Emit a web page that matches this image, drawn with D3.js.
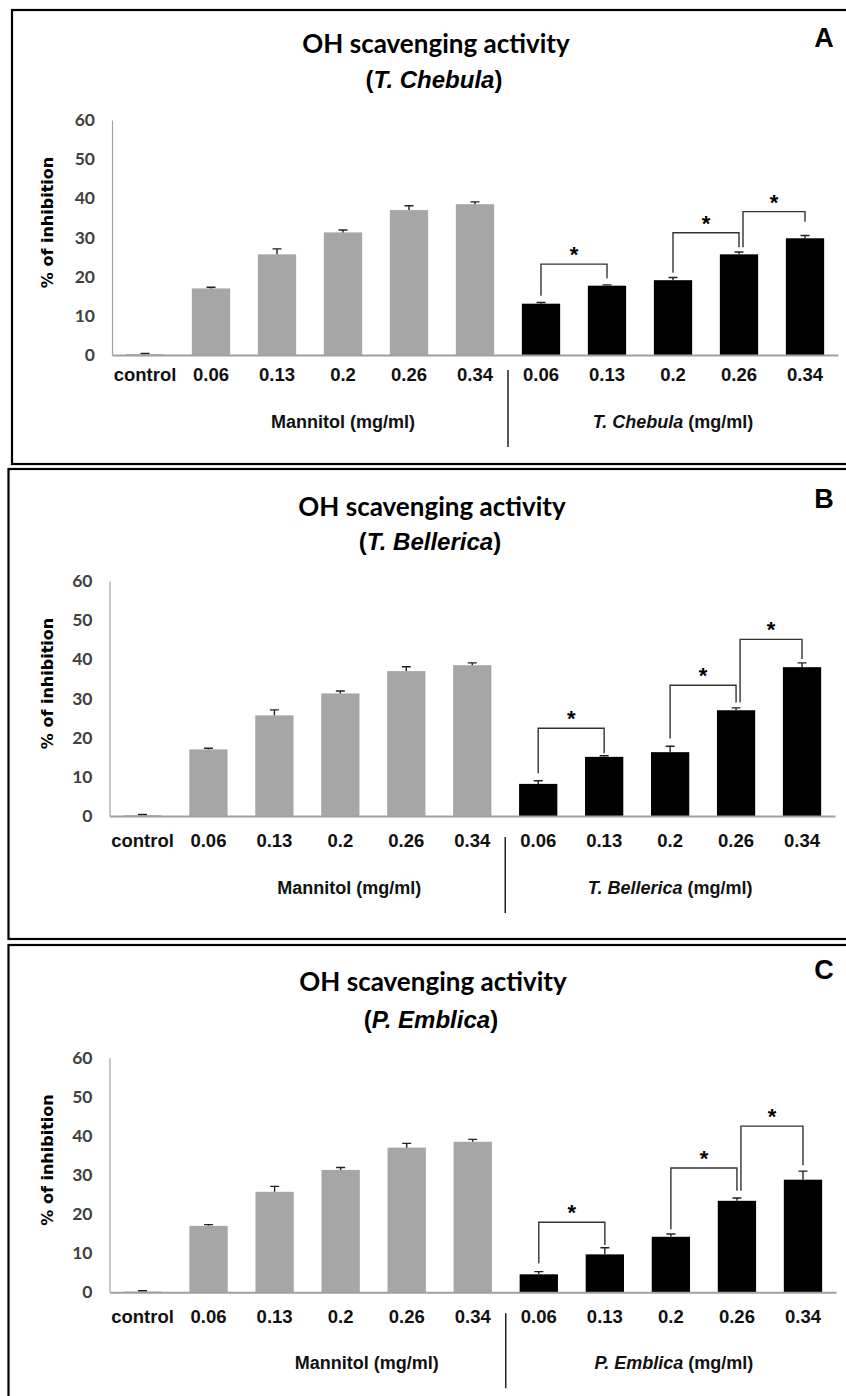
<!DOCTYPE html>
<html lang="en">
<head>
<meta charset="utf-8">
<title>OH scavenging activity</title>
<style>
  body { margin: 0; background: #fff; }
  svg { display: block; }
</style>
</head>
<body>
<div id="chart"></div>
<script src="https://d3js.org/d3.v7.min.js"></script>
<script>
// x axis categories and y ticks
var doseLabels = ["control", "0.06", "0.13", "0.2", "0.26", "0.34", "0.06", "0.13", "0.2", "0.26", "0.34"]
var yTicks = [0, 10, 20, 30, 40, 50, 60]

// control + mannitol reference (same in all three panels)
var controlValue = [0.2]
var controlError = [0.2]
var mannitolValues = [17.0, 25.7, 31.3, 37.0, 38.5]
var mannitolErrors = [0.3, 1.4, 0.6, 1.1, 0.6]

// extracts
var chebulaValues = [13.1, 17.7, 19.1, 25.7, 29.8]
var chebulaErrors = [0.3, 0.2, 0.7, 0.6, 0.7]
var bellericaValues = [8.2, 15.1, 16.3, 27.0, 38.0]
var bellericaErrors = [0.8, 0.3, 1.5, 0.6, 1.1]
var emblicaValues = [4.6, 9.7, 14.2, 23.4, 28.8]
var emblicaErrors = [0.7, 1.7, 0.7, 0.7, 2.2]

// significance brackets: [from bar, to bar, line level, left leg end, right leg end]
var chebulaBrackets = [[6, 7, 23.2, 15.1, 19.6], [8, 9, 31.2, 21.0, 27.5], [9, 10, 36.6, 27.5, 34.0]]
var bellericaBrackets = [[6, 7, 22.4, 10.9, 16.0], [8, 9, 33.4, 19.8, 29.0], [9, 10, 45.1, 29.0, 40.1]]
var emblicaBrackets = [[6, 7, 17.9, 7.4, 12.1], [8, 9, 31.8, 16.1, 26.0], [9, 10, 42.5, 26.0, 32.5]]

var W = 846, H = 1396
var grey = "#a6a6a6", axisGrey = "#a0a0a0"
var latoFont = "Lato, 'Open Sans', sans-serif"
var arialFont = "'Liberation Sans', Arial, sans-serif"
var narrowFont = "'Liberation Sans Narrow', 'Arial Narrow', 'Liberation Sans', Arial, sans-serif"

// panel layout
var panels = [
  {letter: "A", name: "T. Chebula", values: chebulaValues, errors: chebulaErrors, brackets: chebulaBrackets,
   boxX: 12, boxY: 10, boxH: 454, axisX: 112, axisR: 838, top: 120, zero: 355,
   titleX: 436, titleY: 44, subY: 80, letterY: 38, tickPad: 20, groupDy: 67,
   sepTop: 15, sepBot: 92, mannDx: 0, extDx: 0, groupFont: arialFont},
  {letter: "B", name: "T. Bellerica", values: bellericaValues, errors: bellericaErrors, brackets: bellericaBrackets,
   boxX: 8.5, boxY: 469, boxH: 470, axisX: 109.5, axisR: 835, top: 581, zero: 816,
   titleX: 432, titleY: 507, subY: 542, letterY: 499, tickPad: 25, groupDy: 72,
   sepTop: 21, sepBot: 97, mannDx: 9, extDx: 0, groupFont: narrowFont},
  {letter: "C", name: "P. Emblica", values: emblicaValues, errors: emblicaErrors, brackets: emblicaBrackets,
   boxX: 8.5, boxY: 945, boxH: 500, axisX: 109.5, axisR: 836, top: 1057.7, zero: 1292.3,
   titleX: 433, titleY: 982, subY: 1020, letterY: 970, tickPad: 25, groupDy: 70.5,
   sepTop: 21, sepBot: 96, mannDx: 26, extDx: 3, groupFont: narrowFont}
]

var svg = d3.select("#chart")
  .append("svg")
    .attr("width", W)
    .attr("height", H)
    .attr("viewBox", "0 0 " + W + " " + H)

panels.forEach(function (p) {
  var g = svg.append("g")
  var values = controlValue.concat(mannitolValues, p.values)
  var errors = controlError.concat(mannitolErrors, p.errors)
  var idx = d3.range(values.length)

  // frame
  g.append("rect")
    .attr("x", p.boxX)
    .attr("y", p.boxY)
    .attr("width", W - p.boxX + 10)
    .attr("height", p.boxH)
    .attr("fill", "none")
    .attr("stroke", "#000")
    .attr("stroke-width", 2.2)

  var x = d3.scaleBand()
    .domain(idx)
    .range([p.axisX, p.axisR])
    .paddingInner(0.42)
    .paddingOuter(0.21)

  var y = d3.scaleLinear()
    .domain([0, 60])
    .range([p.zero, p.top])

  // titles
  g.append("text")
    .attr("x", p.titleX)
    .attr("y", p.titleY)
    .attr("dy", "0.35em")
    .attr("text-anchor", "middle")
    .style("font-family", latoFont)
    .style("font-weight", "bold")
    .style("font-size", "26px")
    .text("OH scavenging activity")

  var sub = g.append("text")
    .attr("x", p.titleX - 2)
    .attr("y", p.subY)
    .attr("dy", "0.35em")
    .attr("text-anchor", "middle")
    .style("font-family", arialFont)
    .style("font-weight", "bold")
    .style("font-size", "24px")
  sub.append("tspan").text("(")
  sub.append("tspan").style("font-style", "italic").text(p.name)
  sub.append("tspan").text(")")

  g.append("text")
    .attr("x", 824)
    .attr("y", p.letterY)
    .attr("dy", "0.35em")
    .attr("text-anchor", "middle")
    .style("font-family", arialFont)
    .style("font-weight", "bold")
    .style("font-size", "27px")
    .text(p.letter)

  // y axis
  var yAxis = g.append("g")
    .attr("transform", "translate(" + p.axisX + ",0)")
    .call(d3.axisLeft(y).tickValues(yTicks).tickSize(0).tickPadding(17))
  yAxis.select(".domain").attr("stroke", axisGrey).attr("stroke-width", 1.2)
  yAxis.selectAll("text")
    .attr("fill", "#404040")
    .style("font-family", latoFont)
    .style("font-weight", "bold")
    .style("font-size", "17.5px")

  g.append("text")
    .attr("transform", "translate(47," + ((p.top + p.zero) / 2 - 15) + ") rotate(-90)")
    .attr("dy", "0.35em")
    .attr("text-anchor", "middle")
    .style("font-family", "'DejaVu Sans', Verdana, sans-serif")
    .style("font-weight", "bold")
    .style("font-size", "16px")
    .text("% of inhibition")

  // bars
  g.selectAll(".bar")
    .data(idx)
    .join("rect")
      .attr("class", "bar")
      .attr("x", function (i) { return x(i) })
      .attr("width", x.bandwidth())
      .attr("y", function (i) { return y(values[i]) })
      .attr("height", function (i) { return y(0) - y(values[i]) })
      .attr("fill", function (i) { return i < 6 ? grey : "#000" })

  // error bars (upper only)
  var cap = 4.5
  g.selectAll(".err")
    .data(idx)
    .join("path")
      .attr("class", "err")
      .attr("d", function (i) {
        var cx = x(i) + x.bandwidth() / 2
        var y0 = y(values[i]), y1 = y(values[i] + errors[i])
        return "M" + cx + "," + y0 + "V" + y1 + "M" + (cx - cap) + "," + y1 + "H" + (cx + cap)
      })
      .attr("fill", "none")
      .attr("stroke", "#222")
      .attr("stroke-width", 1.4)

  // x axis
  var xAxis = g.append("g")
    .attr("transform", "translate(0," + p.zero + ")")
    .call(d3.axisBottom(x).tickSize(0).tickSizeOuter(0).tickPadding(p.tickPad - 7)
      .tickFormat(function (i) { return doseLabels[i] }))
  xAxis.select(".domain").attr("stroke", axisGrey).attr("stroke-width", 2)
  xAxis.selectAll("text")
    .attr("fill", "#111")
    .style("font-family", p.groupFont)
    .style("font-weight", "bold")
    .style("font-size", "18.5px")

  // group separator and group labels
  var sepX = x(6) - (x.step() - x.bandwidth()) / 2
  g.append("line")
    .attr("x1", sepX).attr("x2", sepX)
    .attr("y1", p.zero + p.sepTop).attr("y2", p.zero + p.sepBot)
    .attr("stroke", "#000")
    .attr("stroke-width", 1.3)

  g.append("text")
    .attr("x", x(3) + x.bandwidth() / 2 + p.mannDx)
    .attr("y", p.zero + p.groupDy)
    .attr("dy", "0.35em")
    .attr("text-anchor", "middle")
    .attr("fill", "#111")
    .style("font-family", p.groupFont)
    .style("font-weight", "bold")
    .style("font-size", "18px")
    .text("Mannitol (mg/ml)")

  var ext = g.append("text")
    .attr("x", x(8) + x.bandwidth() / 2 + p.extDx)
    .attr("y", p.zero + p.groupDy)
    .attr("dy", "0.35em")
    .attr("text-anchor", "middle")
    .attr("fill", "#111")
    .style("font-family", p.groupFont)
    .style("font-weight", "bold")
    .style("font-size", "18px")
  ext.append("tspan").style("font-style", "italic").text(p.name)
  ext.append("tspan").text(" (mg/ml)")

  // significance brackets
  p.brackets.forEach(function (b, k) {
    var shift = (k > 0 && p.brackets[k - 1][1] === b[0]) ? 4 : 0
    var xl = x(b[0]) + x.bandwidth() / 2 + shift
    var xr = x(b[1]) + x.bandwidth() / 2
    g.append("path")
      .attr("d", "M" + xl + "," + y(b[3]) + "V" + y(b[2]) + "H" + xr + "V" + y(b[4]))
      .attr("fill", "none")
      .attr("stroke", "#333")
      .attr("stroke-width", 1.4)
    g.append("text")
      .attr("x", (xl + xr) / 2)
      .attr("y", y(b[2]) - 2)
      .attr("text-anchor", "middle")
      .style("font-family", arialFont)
      .style("font-weight", "bold")
      .style("font-size", "22px")
      .text("*")
  })
})
</script>
</body>
</html>
